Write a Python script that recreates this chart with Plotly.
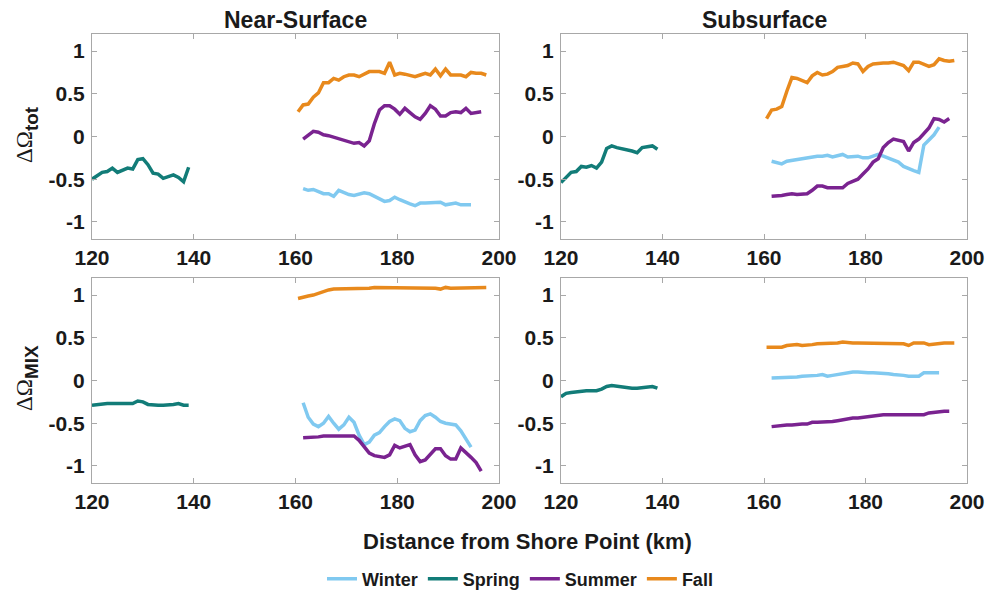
import plotly.graph_objects as go

# Distance grids (km from shore point) for each season
KM_SPRING = list(range(120, 140))
KM_WINTER = [k + 0.5 for k in range(161, 195)]
KM_SUMMER = [k + 0.5 for k in range(161, 197)]
KM_FALL = [k + 0.5 for k in range(160, 198)]

SEASONS = ["Winter", "Spring", "Summer", "Fall"]
COLORS = {"Winter": "#80C9F0", "Spring": "#127C78", "Summer": "#7A2390", "Fall": "#E8891C"}

# Near-surface, total change
ns_tot_winter = [-0.61, -0.63, -0.62, -0.65, -0.67, -0.67, -0.70, -0.63, -0.66, -0.68,
                 -0.69, -0.67, -0.66, -0.67, -0.70, -0.73, -0.76, -0.75, -0.71, -0.74,
                 -0.77, -0.79, -0.81, -0.78, -0.78, -0.78, -0.77, -0.77, -0.80, -0.79,
                 -0.78, -0.80, -0.80, -0.80]
ns_tot_spring = [-0.50, -0.46, -0.42, -0.41, -0.37, -0.42, -0.39, -0.37, -0.38, -0.27,
                 -0.26, -0.33, -0.43, -0.44, -0.49, -0.47, -0.45, -0.48, -0.53, -0.36]
ns_tot_summer = [-0.03, 0.02, 0.06, 0.05, 0.02, 0.01, -0.01, -0.03, -0.04, -0.06,
                 -0.08, -0.07, -0.11, -0.05, 0.15, 0.31, 0.36, 0.36, 0.32, 0.26,
                 0.33, 0.28, 0.23, 0.20, 0.27, 0.36, 0.32, 0.24, 0.24, 0.28,
                 0.29, 0.28, 0.33, 0.27, 0.28, 0.29]
ns_tot_fall = [0.29, 0.37, 0.38, 0.46, 0.51, 0.63, 0.63, 0.68, 0.66, 0.70,
               0.72, 0.72, 0.70, 0.73, 0.76, 0.76, 0.76, 0.74, 0.87, 0.72,
               0.74, 0.73, 0.72, 0.70, 0.72, 0.74, 0.72, 0.79, 0.71, 0.79,
               0.72, 0.72, 0.72, 0.70, 0.75, 0.74, 0.74, 0.72]

# Subsurface, total change
ss_tot_winter = [-0.29, -0.30, -0.32, -0.29, -0.28, -0.27, -0.26, -0.25, -0.23, -0.23,
                 -0.23, -0.22, -0.24, -0.23, -0.21, -0.24, -0.23, -0.23, -0.25, -0.25,
                 -0.23, -0.21, -0.23, -0.25, -0.27, -0.30, -0.35, -0.38, -0.40, -0.42,
                 -0.10, -0.04, 0.02, 0.11]
ss_tot_spring = [-0.54, -0.48, -0.42, -0.41, -0.35, -0.36, -0.34, -0.37, -0.30, -0.14,
                 -0.11, -0.13, -0.14, -0.15, -0.17, -0.19, -0.13, -0.12, -0.11, -0.15]
ss_tot_summer = [-0.70, -0.70, -0.69, -0.68, -0.67, -0.68, -0.68, -0.67, -0.63, -0.58,
                 -0.58, -0.60, -0.60, -0.60, -0.60, -0.55, -0.53, -0.50, -0.44, -0.38,
                 -0.30, -0.26, -0.13, -0.07, -0.03, -0.04, -0.06, -0.17, -0.07, -0.03,
                 0.03, 0.10, 0.21, 0.20, 0.17, 0.21]
ss_tot_fall = [0.21, 0.31, 0.32, 0.35, 0.53, 0.69, 0.68, 0.66, 0.63, 0.71,
               0.75, 0.72, 0.73, 0.76, 0.81, 0.82, 0.83, 0.86, 0.85, 0.76,
               0.82, 0.85, 0.86, 0.86, 0.86, 0.87, 0.85, 0.83, 0.77, 0.87,
               0.87, 0.85, 0.82, 0.84, 0.91, 0.89, 0.88, 0.89]

# Near-surface, mixing contribution
ns_mix_winter = [-0.26, -0.43, -0.51, -0.54, -0.50, -0.42, -0.50, -0.57, -0.52, -0.43,
                 -0.49, -0.64, -0.75, -0.72, -0.64, -0.61, -0.54, -0.48, -0.45, -0.47,
                 -0.56, -0.60, -0.58, -0.47, -0.41, -0.39, -0.43, -0.48, -0.50, -0.51,
                 -0.52, -0.59, -0.69, -0.78]
ns_mix_spring = [-0.29, -0.28, -0.28, -0.27, -0.27, -0.27, -0.27, -0.27, -0.27, -0.24,
                 -0.25, -0.28, -0.29, -0.29, -0.29, -0.29, -0.28, -0.27, -0.29, -0.29]
ns_mix_summer = [-0.67, -0.67, -0.66, -0.66, -0.65, -0.65, -0.65, -0.66, -0.66, -0.66,
                 -0.65, -0.70, -0.78, -0.85, -0.88, -0.89, -0.90, -0.87, -0.76, -0.79,
                 -0.77, -0.75, -0.87, -0.95, -0.93, -0.86, -0.80, -0.80, -0.88, -0.92,
                 -0.92, -0.79, -0.84, -0.90, -0.96, -1.06]
ns_mix_fall = [0.96, 0.98, 0.99, 1.00, 1.02, 1.05, 1.06, 1.07, 1.07, 1.07,
               1.08, 1.08, 1.08, 1.08, 1.08, 1.09, 1.09, 1.09, 1.09, 1.09,
               1.09, 1.08, 1.08, 1.08, 1.08, 1.08, 1.08, 1.08, 1.07, 1.09,
               1.08, 1.08, 1.08, 1.08, 1.09, 1.09, 1.09, 1.09]

# Subsurface, mixing contribution
ss_mix_winter = [0.03, 0.03, 0.03, 0.04, 0.04, 0.04, 0.05, 0.05, 0.06, 0.06,
                 0.07, 0.05, 0.06, 0.07, 0.09, 0.10, 0.10, 0.10, 0.09, 0.09,
                 0.09, 0.09, 0.08, 0.08, 0.07, 0.07, 0.06, 0.05, 0.05, 0.05,
                 0.09, 0.09, 0.09, 0.09]
ss_mix_spring = [-0.19, -0.15, -0.14, -0.13, -0.13, -0.12, -0.12, -0.12, -0.10, -0.07,
                 -0.06, -0.07, -0.07, -0.08, -0.09, -0.09, -0.08, -0.07, -0.07, -0.09]
ss_mix_summer = [-0.54, -0.53, -0.53, -0.52, -0.52, -0.51, -0.51, -0.51, -0.49, -0.49,
                 -0.49, -0.49, -0.48, -0.47, -0.46, -0.44, -0.44, -0.44, -0.43, -0.42,
                 -0.41, -0.40, -0.40, -0.40, -0.40, -0.40, -0.40, -0.41, -0.41, -0.40,
                 -0.40, -0.38, -0.37, -0.37, -0.36, -0.36]
ss_mix_fall = [0.39, 0.39, 0.39, 0.39, 0.41, 0.42, 0.42, 0.41, 0.41, 0.42,
               0.43, 0.43, 0.43, 0.44, 0.44, 0.45, 0.44, 0.44, 0.44, 0.44,
               0.44, 0.44, 0.44, 0.44, 0.44, 0.44, 0.44, 0.43, 0.41, 0.44,
               0.44, 0.44, 0.42, 0.43, 0.43, 0.44, 0.44, 0.44]

X_TICKS = [120, 140, 160, 180, 200]
Y_TICKS = [-1, -0.5, 0, 0.5, 1]
Y_TICK_TEXT = ["-1", "-0.5", "0", "0.5", "1"]

KM = {"Winter": KM_WINTER, "Spring": KM_SPRING, "Summer": KM_SUMMER, "Fall": KM_FALL}

panels = [
    ("x", "y", {"Winter": ns_tot_winter, "Spring": ns_tot_spring, "Summer": ns_tot_summer, "Fall": ns_tot_fall}),
    ("x2", "y2", {"Winter": ss_tot_winter, "Spring": ss_tot_spring, "Summer": ss_tot_summer, "Fall": ss_tot_fall}),
    ("x3", "y3", {"Winter": ns_mix_winter, "Spring": ns_mix_spring, "Summer": ns_mix_summer, "Fall": ns_mix_fall}),
    ("x4", "y4", {"Winter": ss_mix_winter, "Spring": ss_mix_spring, "Summer": ss_mix_summer, "Fall": ss_mix_fall}),
]

FONT = "Liberation Sans, Arial, Helvetica, sans-serif"
INK = "#1a1a1a"
W, H = 997, 591

fig = go.Figure()
for i, (xa, ya, series) in enumerate(panels):
    for s in SEASONS:
        fig.add_trace(go.Scatter(
            x=KM[s], y=series[s], mode="lines", name=s,
            line=dict(color=COLORS[s], width=3.5),
            xaxis=xa, yaxis=ya, legendgroup=s, showlegend=(i == 0),
        ))


def px_x(p):
    return p / W


def px_y(p):
    return 1 - p / H


col_dom = [[px_x(92), px_x(499)], [px_x(561), px_x(967)]]
row_dom = [[px_y(239), px_y(34)], [px_y(483), px_y(278)]]

axis_style = dict(
    showline=True, mirror="ticks", linecolor="#a8a8a8", linewidth=1,
    ticks="inside", ticklen=5, tickcolor="#a8a8a8", tickwidth=1,
    showgrid=False, zeroline=False, automargin=False,
    tickfont=dict(family=FONT, size=21, color=INK, weight="bold"),
)

layout_axes = {}
for i, (xa, ya, _) in enumerate(panels):
    r, c = divmod(i, 2)
    xkey = "xaxis" if xa == "x" else "xaxis" + xa[1:]
    ykey = "yaxis" if ya == "y" else "yaxis" + ya[1:]
    layout_axes[xkey] = dict(axis_style, domain=col_dom[c], anchor=ya, range=[120, 200],
                             tickvals=X_TICKS, ticklabelstandoff=0)
    layout_axes[ykey] = dict(axis_style, domain=row_dom[r], anchor=xa, range=[-1.2, 1.2],
                             tickvals=Y_TICKS, ticktext=Y_TICK_TEXT, ticklabelstandoff=2)

greek = "font-family:Liberation Serif, Times New Roman, serif;font-weight:normal;font-size:23px"
annotations = [
    dict(text="Near-Surface", x=px_x(295.5), y=px_y(20), font_size=23),
    dict(text="Subsurface", x=px_x(764), y=px_y(20), font_size=23),
    dict(text="Distance from Shore Point (km)", x=px_x(527), y=px_y(541), font_size=22),
    dict(text=f'<span style="{greek}">ΔΩ</span><sub>tot</sub>', x=px_x(27), y=px_y(135),
         textangle=-90, font_size=27),
    dict(text=f'<span style="{greek}">ΔΩ</span><sub>MIX</sub>', x=px_x(27), y=px_y(378),
         textangle=-90, font_size=27),
]
for a in annotations:
    size = a.pop("font_size")
    a.update(xref="paper", yref="paper", xanchor="center", yanchor="middle",
             showarrow=False, font=dict(family=FONT, size=size, color=INK, weight="bold"))

fig.update_layout(
    template="none",
    width=W, height=H,
    margin=dict(l=0, r=0, t=0, b=0, autoexpand=False),
    paper_bgcolor="white", plot_bgcolor="white",
    font=dict(family=FONT, color=INK),
    showlegend=True,
    legend=dict(orientation="h", x=px_x(520), y=px_y(579), xanchor="center", yanchor="middle",
                font=dict(family=FONT, size=18, color=INK, weight="bold"),
                bgcolor="rgba(0,0,0,0)", itemwidth=30, tracegroupgap=0),
    annotations=annotations,
    **layout_axes,
)

fig.write_html("out.html")
